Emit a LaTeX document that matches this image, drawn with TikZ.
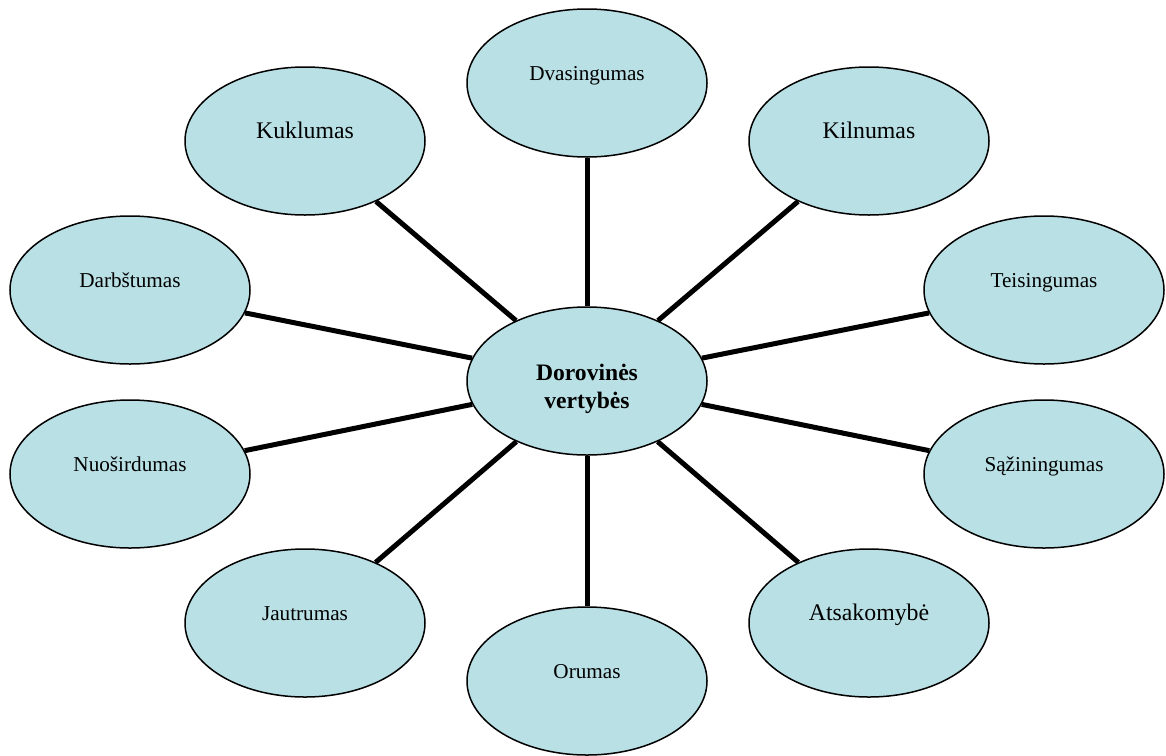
\documentclass[tikz,border=0pt]{standalone}
\usepackage{fontspec}
\setmainfont{Liberation Serif}
\usetikzlibrary{shapes.geometric}
\definecolor{bubblefill}{RGB}{185,224,229}
\newcommand{\lbl}[1]{\raisebox{3pt}[0pt][0pt]{#1}}
\tikzset{
  bubble/.style={ellipse, draw=black, line width=1.5pt, fill=bubblefill,
    minimum width=240pt, minimum height=148pt, inner sep=0pt,
    font=\fontsize{21.2}{25}\selectfont},
  bigtext/.style={font=\fontsize{23.8}{28}\selectfont},
  spoke/.style={line width=5pt, draw=black}
}
\begin{document}
\begin{tikzpicture}[x=1pt,y=-1pt]
\useasboundingbox (0,0) rectangle (1166,755);
\node[bubble] (c) at (587,381) {\raisebox{1pt}[0pt][0pt]{\fontsize{23.6}{28}\selectfont\bfseries\begin{tabular}[t]{@{}c@{}}Dorovinės\\vertybės\end{tabular}}};
\node[bubble] (dva) at (587,83) {\lbl{Dvasingumas}};
\node[bubble,bigtext] (kil) at (869,141) {\lbl{Kilnumas}};
\node[bubble] (tei) at (1044,290) {\lbl{Teisingumas}};
\node[bubble] (saz) at (1044,474) {\lbl{Sąžiningumas}};
\node[bubble,bigtext] (ats) at (869,623) {\lbl{Atsakomybė}};
\node[bubble] (oru) at (587,681) {\lbl{Orumas}};
\node[bubble] (jau) at (305,623) {\lbl{Jautrumas}};
\node[bubble] (nuo) at (130,474) {\lbl{Nuoširdumas}};
\node[bubble] (dar) at (130,290) {\lbl{Darbštumas}};
\node[bubble,bigtext] (kuk) at (305,141) {\lbl{Kuklumas}};
\foreach \n in {dva,kil,tei,saz,ats,oru,jau,nuo,dar,kuk}
  \draw[spoke] (c) -- (\n);
\end{tikzpicture}
\end{document}
